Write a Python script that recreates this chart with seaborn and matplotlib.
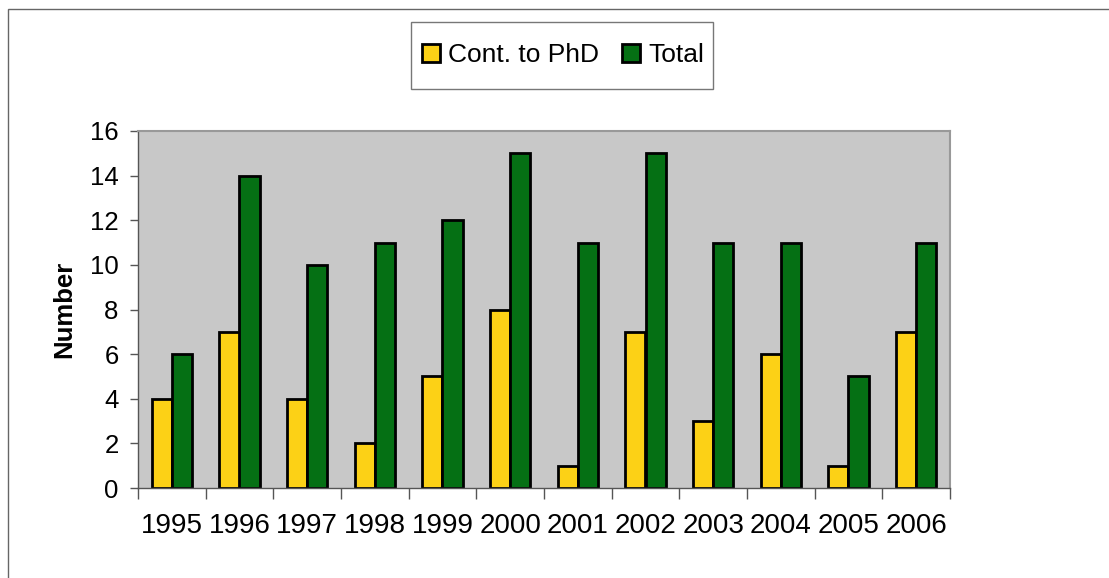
import pandas as pd
import seaborn as sns
import matplotlib.pyplot as plt
from matplotlib.patches import Rectangle

# данные с картинки
years = ['1995', '1996', '1997', '1998', '1999', '2000',
         '2001', '2002', '2003', '2004', '2005', '2006']
cont_to_phd = [4, 7, 4, 2, 5, 8, 1, 7, 3, 6, 1, 7]
total = [6, 14, 10, 11, 12, 15, 11, 15, 11, 11, 5, 11]
series = ['Cont. to PhD', 'Total']
colors = ['#FCD116', '#057014']

df = pd.DataFrame({'year': years * 2,
                   'value': cont_to_phd + total,
                   'series': [series[0]] * len(years) + [series[1]] * len(years)})

sns.set_style('white')
plt.rcParams['font.family'] = ['Liberation Sans', 'DejaVu Sans']
plt.rcParams['text.color'] = 'black'
plt.rcParams['axes.labelcolor'] = 'black'
plt.rcParams['xtick.color'] = 'black'
plt.rcParams['ytick.color'] = 'black'

fig = plt.figure(figsize=(11.09, 5.78), dpi=100)
ax = fig.add_axes([138 / 1109, 90 / 578, 812 / 1109, 357 / 578])

sns.barplot(data=df, x='year', y='value', hue='series', palette=colors,
            width=0.6, edgecolor='black', linewidth=2, saturation=1,
            ax=ax)

ax.set_facecolor('#C8C8C8')
ax.set_ylim(0, 16)
ax.set_xlim(-0.5, len(years) - 0.5)
ax.set_yticks(range(0, 17, 2))
ax.set_xticks([i - 0.5 for i in range(len(years) + 1)], minor=False)
ax.set_xticklabels([])
ax.set_xticks(range(len(years)), minor=True)
ax.set_xticklabels(years, minor=True)
ax.tick_params(axis='x', which='major', direction='out', length=8, width=1,
               color='#555555', bottom=True)
ax.tick_params(axis='x', which='minor', length=0, labelsize=20, pad=18)
ax.tick_params(axis='y', direction='out', length=6, width=1, color='#555555',
               left=True, labelsize=18.5, pad=8)
ax.set_xlabel('')
ax.set_ylabel('Number', fontsize=18.5, fontweight='bold', labelpad=10)

for side in ['top', 'right']:
    ax.spines[side].set_color('#999999')
    ax.spines[side].set_linewidth(1.5)
for side in ['left', 'bottom']:
    ax.spines[side].set_color('#555555')
    ax.spines[side].set_linewidth(1)

ax.legend(title=None, loc='center', bbox_to_anchor=(563 / 1109, 1 - 55 / 578),
          bbox_transform=fig.transFigure, ncol=2, fontsize=19, frameon=False,
          borderpad=0, handlelength=0.68, handleheight=0.68,
          handletextpad=0.3, columnspacing=0.87, borderaxespad=0)

# рамка легенды
fig.patches.append(Rectangle((411 / 1109, 1 - 89 / 578), 302 / 1109, 67 / 578,
                             transform=fig.transFigure, fill=False,
                             edgecolor='#777777', linewidth=1))

# рамка вокруг рисунка
fig.patches.append(Rectangle((8 / 1109, -0.1), 1.2, 1 - 9 / 578 + 0.1,
                             transform=fig.transFigure, fill=False,
                             edgecolor='#666666', linewidth=1))

fig.savefig('out.png', dpi=100)
